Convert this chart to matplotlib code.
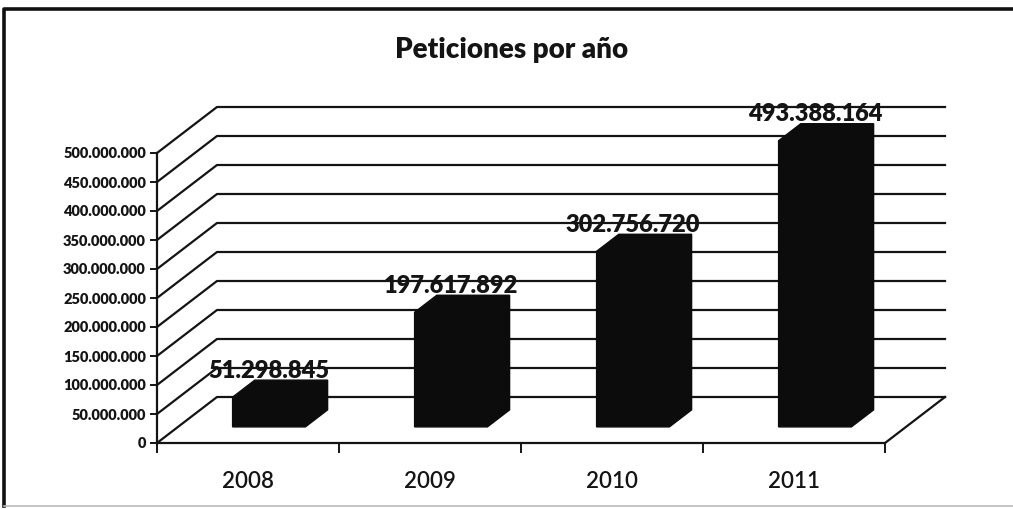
import matplotlib.pyplot as plt
from matplotlib.patches import Polygon
from matplotlib.lines import Line2D

anios = ['2008', '2009', '2010', '2011']
peticiones = [51298845, 197617892, 302756720, 493388164]
marcas_y = list(range(0, 500000001, 50000000))

plt.rcParams['font.family'] = ['Lato', 'DejaVu Sans']

W, H = 1013, 509
fig = plt.figure(figsize=(W / 100, H / 100), dpi=100)

# el eje ocupa el plano frontal; paredes y barras se dibujan fuera con clip_on=False
x_izq, x_der, y_cero, y_tope = 157, 885, 443, 153
ax = fig.add_axes([x_izq / W, (H - y_cero) / H, (x_der - x_izq) / W, (y_cero - y_tope) / H])
ax.set_xlim(-0.5, 3.5)
ax.set_ylim(0, 500000000)

# desplazamiento oblicuo para la profundidad (z de 0 a 1)
DX = 60 / 182
DY = 46 * 500000000 / 290


def proy(x, v, z):
    return (x + z * DX, v + z * DY)


tinta = '#141414'
peso = 'heavy'

# paredes: lineas de cuadricula en el fondo y diagonales en el lateral
for v in marcas_y:
    xs, ys = zip(proy(-0.5, v, 0), proy(-0.5, v, 1), proy(3.5, v, 1))
    ax.add_line(Line2D(xs, ys, color=tinta, lw=1.6, clip_on=False, zorder=1))
xs, ys = zip(proy(3.5, 0, 0), proy(3.5, 0, 1))
ax.add_line(Line2D(xs, ys, color=tinta, lw=1.6, clip_on=False, zorder=1))

# barras 3D (cara frontal, superior y lateral en negro)
ancho = 0.2
z0, z1 = 0.35, 0.72
for i, v in enumerate(peticiones):
    a, b = i - ancho, i + ancho
    pts = [proy(a, 0, z0), proy(a, v, z0), proy(a, v, z1),
           proy(b, v, z1), proy(b, 0, z1), proy(b, 0, z0)]
    ax.add_patch(Polygon(pts, closed=True, facecolor='#0c0c0c', edgecolor='#0c0c0c',
                         lw=1, clip_on=False, zorder=3))
    etiqueta = f'{v:,}'.replace(',', '.')
    ax.annotate(etiqueta, proy(i, v, z0), xytext=(0, 19), textcoords='offset points',
                ha='center', va='center', fontsize=17, fontweight=peso,
                color=tinta, annotation_clip=False, zorder=4)

for lado in ['top', 'right']:
    ax.spines[lado].set_visible(False)
for lado in ['left', 'bottom']:
    ax.spines[lado].set_linewidth(1.6)
    ax.spines[lado].set_color(tinta)
    ax.spines[lado].set_zorder(2)
ax.patch.set_visible(False)

ax.set_yticks(marcas_y)
ax.set_yticklabels([f'{v:,}'.replace(',', '.') for v in marcas_y],
                   fontsize=10.5, fontweight=peso, color=tinta)
ax.tick_params(axis='y', direction='out', length=5, width=1.4, pad=3, color=tinta)

ax.set_xticks(range(len(anios)))
ax.set_xticklabels(anios, fontsize=16, fontweight='semibold', color=tinta)
ax.set_xticks([-0.5, 0.5, 1.5, 2.5, 3.5], minor=True)
ax.tick_params(axis='x', which='major', length=0, pad=20)
ax.tick_params(axis='x', which='minor', direction='out', length=7, width=1.4, color=tinta)

fig.text(512 / W, 1 - 50 / H, 'Peticiones por año', ha='center', va='center',
         fontsize=20, fontweight=peso, color=tinta)

# marco del grafico
fig.add_artist(Line2D([4 / W, 4 / W, 1.0], [1 - 506 / H, 1 - 9 / H, 1 - 9 / H],
                      transform=fig.transFigure, color='#111111', lw=2.6))
fig.add_artist(Line2D([4 / W, 1.0], [1 - 506 / H, 1 - 506 / H],
                      transform=fig.transFigure, color='#bbbbbb', lw=1.2))

fig.savefig('out.png', dpi=100)
